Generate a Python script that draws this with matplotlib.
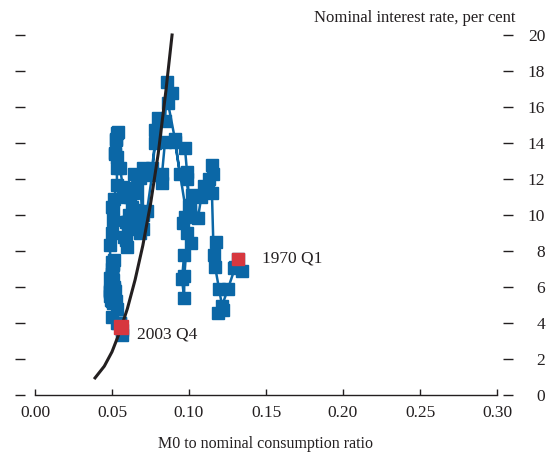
import matplotlib
matplotlib.use("Agg")
import matplotlib.pyplot as plt

# ---------------- data ----------------
# M0 / nominal consumption ratio (x) and nominal interest rate (y), quarterly 1970 Q1 - 2003 Q4
m0_ratio = [
    0.1318, 0.1290, 0.1344, 0.1300,   # 1970
    0.1253, 0.1214, 0.1188, 0.1220,   # 1971
    0.1195, 0.1170, 0.1175, 0.1160,   # 1972
    0.1149, 0.1123, 0.1156, 0.1149,   # 1973
    0.1130, 0.1100, 0.1080, 0.1058,   # 1974
    0.1019, 0.1006, 0.0974, 0.0961,   # 1975
    0.1006, 0.0987, 0.0974, 0.0909,   # 1976
    0.1013, 0.0968, 0.0955, 0.0968,   # 1977
    0.0970, 0.0990, 0.1000, 0.0987,   # 1978
    0.0940, 0.0909, 0.0864, 0.0890,   # 1979
    0.0857, 0.0844, 0.0799, 0.0779,   # 1980
    0.0844, 0.0825, 0.0825, 0.0760,   # 1981
    0.0779, 0.0760, 0.0727, 0.0701,   # 1982
    0.0682, 0.0701, 0.0701, 0.0690,   # 1983
    0.0680, 0.0660, 0.0660, 0.0636,   # 1984
    0.0617, 0.0640, 0.0650, 0.0630,   # 1985
    0.0620, 0.0604, 0.0610, 0.0597,   # 1986
    0.0590, 0.0580, 0.0600, 0.0590,   # 1987
    0.0604, 0.0630, 0.0600, 0.0571,   # 1988
    0.0552, 0.0532, 0.0519, 0.0526,   # 1989
    0.0532, 0.0540, 0.0526, 0.0519,   # 1990
    0.0532, 0.0532, 0.0510, 0.0500,   # 1991
    0.0506, 0.0506, 0.0500, 0.0487,   # 1992
    0.0490, 0.0487, 0.0490, 0.0500,   # 1993
    0.0500, 0.0493, 0.0490, 0.0495,   # 1994
    0.0500, 0.0500, 0.0500, 0.0495,   # 1995
    0.0500, 0.0493, 0.0490, 0.0500,   # 1996
    0.0500, 0.0506, 0.0500, 0.0500,   # 1997
    0.0505, 0.0510, 0.0506, 0.0500,   # 1998
    0.0506, 0.0506, 0.0510, 0.0500,   # 1999
    0.0500, 0.0505, 0.0510, 0.0510,   # 2000
    0.0520, 0.0525, 0.0530, 0.0500,   # 2001
    0.0530, 0.0540, 0.0550, 0.0552,   # 2002
    0.0560, 0.0565, 0.0565, 0.0556,   # 2003
]
interest_rate = [
    7.56, 7.06, 6.90, 7.10,
    5.90, 4.94, 4.56, 4.70,
    5.90, 7.10, 8.50, 7.80,
    11.20, 11.40, 12.30, 12.80,
    12.00, 11.60, 11.00, 9.83,
    11.10, 10.56, 9.90, 9.56,
    10.20, 12.40, 13.70, 14.06,
    8.44, 7.78, 6.44, 5.39,
    6.60, 9.00, 10.50, 12.00,
    12.30, 14.20, 16.20, 16.78,
    17.39, 15.20, 15.40, 14.70,
    14.06, 12.30, 11.80, 12.60,
    14.00, 12.20, 10.20, 9.20,
    12.06, 12.60, 10.00, 9.50,
    9.00, 9.20, 10.30, 11.20,
    11.00, 12.30, 11.50, 11.40,
    11.20, 9.60, 10.00, 8.20,
    9.60, 8.80, 9.60, 8.60,
    9.33, 10.44, 11.00, 11.56,
    12.60, 13.20, 13.44, 14.17,
    14.56, 14.60, 14.20, 13.40,
    12.60, 11.67, 10.90, 10.44,
    10.40, 9.72, 9.00, 8.33,
    6.50, 5.83, 5.50, 5.40,
    5.20, 5.30, 5.80, 6.20,
    6.75, 6.70, 6.60, 6.40,
    6.10, 5.90, 5.75, 6.00,
    6.00, 6.40, 7.00, 7.39,
    7.30, 7.50, 7.20, 6.50,
    5.50, 5.11, 5.20, 5.60,
    6.00, 6.00, 6.00, 5.90,
    5.80, 5.20, 4.80, 4.33,
    4.00, 4.00, 4.00, 4.00,
    3.75, 3.60, 3.33, 3.80,
]

# fitted money-demand curve
curve_x = [0.039, 0.045, 0.050, 0.055, 0.060, 0.065, 0.070, 0.075, 0.080, 0.085, 0.089]
curve_y = [0.95, 1.60, 2.40, 3.50, 4.80, 6.40, 8.30, 10.60, 13.40, 16.90, 20.00]

highlight_labels = ["1970 Q1", "2003 Q4"]
x_ticks = [0.00, 0.05, 0.10, 0.15, 0.20, 0.25, 0.30]
y_ticks = [0, 2, 4, 6, 8, 10, 12, 14, 16, 18, 20]

# ---------------- style ----------------
FONT = ["Liberation Serif", "DejaVu Serif"]
plt.rcParams["font.family"] = FONT
plt.rcParams["font.size"] = 12
TXT = "#231f20"
BLUE = "#0b67a6"
RED = "#d7373f"
TICKFS = 12.5

W, H = 547, 454
fig = plt.figure(figsize=(W / 100, H / 100), dpi=100)
ax = fig.add_axes([35 / W, (H - 395) / H, (497 - 35) / W, (395 - 35) / H])

ax.plot(m0_ratio, interest_rate, color=BLUE, lw=1.8, marker="s", ms=8,
        mfc=BLUE, mec=BLUE, zorder=2, clip_on=False)
ax.plot(curve_x, curve_y, color=TXT, lw=2.2, zorder=3, clip_on=False)

# highlighted first and last observations
ax.plot([m0_ratio[0]], [interest_rate[0]], "s", color=RED, ms=9, zorder=4)
ax.plot([m0_ratio[-1]], [interest_rate[-1]], "s", color=RED, ms=10, zorder=4)
ax.annotate(highlight_labels[0], (m0_ratio[0], interest_rate[0]), xytext=(17, 0),
            textcoords="offset points", va="center", ha="left", color=TXT,
            fontsize=TICKFS)
ax.annotate(highlight_labels[1], (m0_ratio[-1], interest_rate[-1]), xytext=(12, -6),
            textcoords="offset points", va="center", ha="left", color=TXT,
            fontsize=TICKFS)

ax.set_xlim(0, 0.30)
ax.set_ylim(0, 20)
ax.set_xticks(x_ticks)
ax.set_xticklabels([f"{v:.2f}" for v in x_ticks])
ax.set_yticks(y_ticks)
ax.set_yticklabels([str(v) for v in y_ticks])

for s in ["top", "left", "right"]:
    ax.spines[s].set_visible(False)
ax.spines["bottom"].set_color(TXT)
ax.spines["bottom"].set_linewidth(1.0)
ax.spines["left"].set_position(("outward", 7.2))
ax.spines["right"].set_position(("outward", 4.5))

ax.tick_params(axis="x", direction="in", length=4.5, width=1.0, color=TXT,
               labelcolor=TXT, pad=7, labelsize=TICKFS)
ax.tick_params(axis="y", left=True, right=True, labelleft=False, labelright=True,
               direction="out", length=7.2, width=1.0, color=TXT, labelcolor=TXT,
               pad=23, labelsize=TICKFS)
for t in ax.yaxis.get_major_ticks():
    t.label2.set_horizontalalignment("right")

ax.set_xlabel("M0 to nominal consumption ratio", color=TXT, labelpad=11, fontsize=11.5)
fig.text(515 / W, 1 - 22 / H, "Nominal interest rate, per cent", ha="right",
         va="baseline", color=TXT, fontsize=12)

fig.savefig("out.png", dpi=100)
